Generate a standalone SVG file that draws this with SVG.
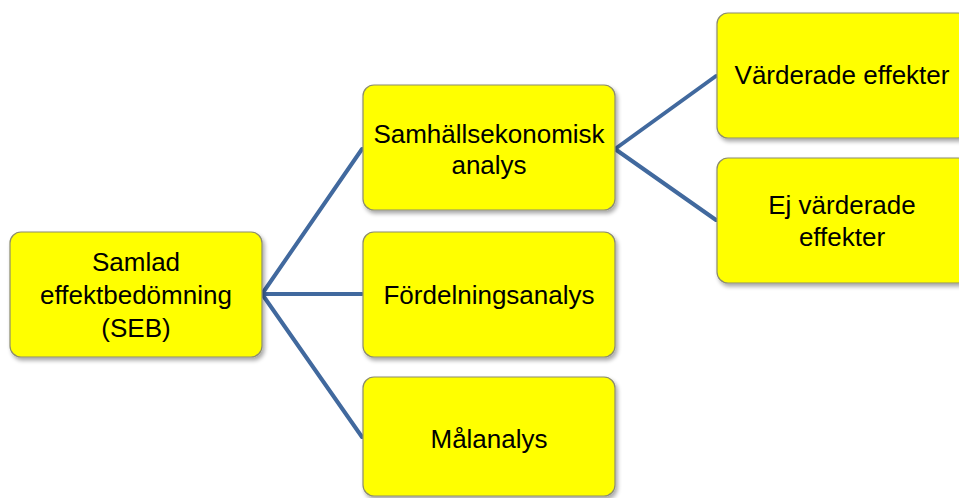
<svg xmlns="http://www.w3.org/2000/svg" width="959" height="498" viewBox="0 0 959 498">
<defs>
<filter id="sh" x="-10%" y="-10%" width="130%" height="130%">
<feGaussianBlur in="SourceAlpha" stdDeviation="2"/>
<feOffset dx="2" dy="3" result="b"/>
<feComponentTransfer><feFuncA type="linear" slope="0.35"/></feComponentTransfer>
<feMerge><feMergeNode/><feMergeNode in="SourceGraphic"/></feMerge>
</filter>
</defs>
<style>
.box{fill:#ffff00;stroke:#8c8c6e;stroke-width:1.2;filter:url(#sh)}
.t{font-family:"Liberation Sans",Arial,sans-serif;font-size:26px;fill:#000;text-anchor:middle}
.c{stroke:#41699e;stroke-width:4;fill:none;stroke-linecap:round}
</style>
<rect width="959" height="498" fill="#fff"/>
<g id="connectors">
<path class="c" d="M262 294 L362 149"/>
<path class="c" d="M262 294 L362 294"/>
<path class="c" d="M262 294 L362 437"/>
<path class="c" d="M615 149 L716 76"/>
<path class="c" d="M615 149 L716 220"/>
</g>
<g id="seb">
<rect class="box" x="10" y="232" width="252" height="125" rx="11"/>
<text class="t" x="136" y="271">Samlad</text>
<text class="t" x="136" y="304">effektbedömning</text>
<text class="t" x="136" y="337">(SEB)</text>
</g>
<g id="samhallsekonomisk">
<rect class="box" x="363" y="85" width="252" height="125" rx="11"/>
<text class="t" x="489" y="143">Samhällsekonomisk</text>
<text class="t" x="489" y="174">analys</text>
</g>
<g id="fordelning">
<rect class="box" x="363" y="232" width="252" height="125" rx="11"/>
<text class="t" x="489" y="304">Fördelningsanalys</text>
</g>
<g id="malanalys">
<rect class="box" x="363" y="377" width="252" height="119" rx="11"/>
<text class="t" x="489" y="448">Målanalys</text>
</g>
<g id="varderade">
<rect class="box" x="717" y="13" width="252" height="125" rx="11"/>
<text class="t" x="842" y="84">Värderade effekter</text>
</g>
<g id="ejvarderade">
<rect class="box" x="717" y="158" width="252" height="125" rx="11"/>
<text class="t" x="842" y="214">Ej värderade</text>
<text class="t" x="842" y="246">effekter</text>
</g>
</svg>
